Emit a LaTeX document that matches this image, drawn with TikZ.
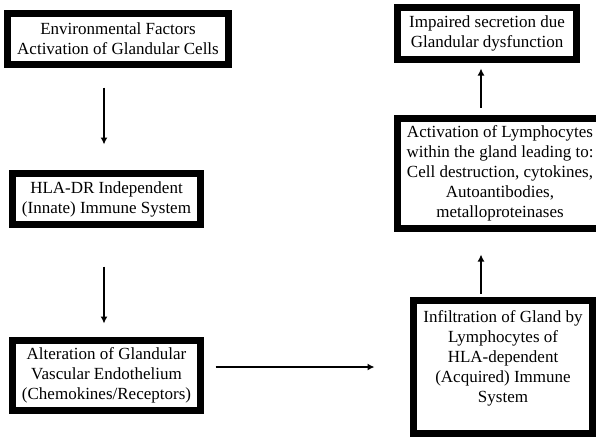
\documentclass[tikz,border=0pt]{standalone}
\usepackage{fontspec}
\setmainfont{Liberation Serif}
\usetikzlibrary{arrows.meta}
\begin{document}
\begin{tikzpicture}[x=1pt,y=1pt,
  box/.style={draw=black, line width=7pt, fill=white, align=center, inner sep=0pt,
    font=\fontsize{17}{20}\selectfont},
  arr/.style={line width=1.8pt, -{Latex[length=7pt,width=7pt]}}]
\useasboundingbox (0,0) rectangle (596,-437);
\clip (0,0) rectangle (596,-437);
\node[box, minimum width=221pt, minimum height=51pt] (b1) at (118,-39)
  {Environmental Factors\\Activation of Glandular Cells};
\node[box, minimum width=188pt, minimum height=51pt] (b2) at (106.5,-199)
  {HLA-DR Independent\\(Innate) Immune System};
\node[box, minimum width=188pt, minimum height=70pt] (b3) at (106.5,-375.5)
  {Alteration of Glandular\\Vascular Endothelium\\(Chemokines/Receptors)};
\node[box, minimum width=179pt, minimum height=52pt] (b4) at (487,-33.5)
  {Impaired secretion due\\Glandular dysfunction};
\node[box, minimum width=205pt, minimum height=110pt] (b5) at (500,-173.5)
  {Activation of Lymphocytes\\within the gland leading to:\\Cell destruction, cytokines,\\Autoantibodies,\\metalloproteinases};
\node[box, minimum width=179pt, minimum height=133pt] (b6) at (503,-367)
  {Infiltration of Gland by\\Lymphocytes of\\HLA-dependent\\(Acquired) Immune\\System\\\mbox{}};
\draw[arr, shorten <=19.5pt, shorten >=25.5pt]
  ([xshift=-2.5pt]b2.north |- b1.south) -- ([xshift=-2.5pt]b2.north);
\draw[arr, shorten <=38.5pt, shorten >=13.5pt]
  ([xshift=-2.5pt]b2.south) -- ([xshift=-2.5pt]b3.north);
\draw[arr, shorten <=11.5pt, shorten >=35.5pt]
  (b3.east |- b6.west) -- (b6.west);
\draw[arr, shorten <=3.5pt, shorten >=22.5pt]
  ([xshift=-6pt]b4.south |- b6.north) -- ([xshift=-6pt]b4.south |- b5.south);
\draw[arr, shorten <=7.5pt, shorten >=5.5pt]
  ([xshift=-6pt]b4.south |- b5.north) -- ([xshift=-6pt]b4.south);
\end{tikzpicture}
\end{document}
